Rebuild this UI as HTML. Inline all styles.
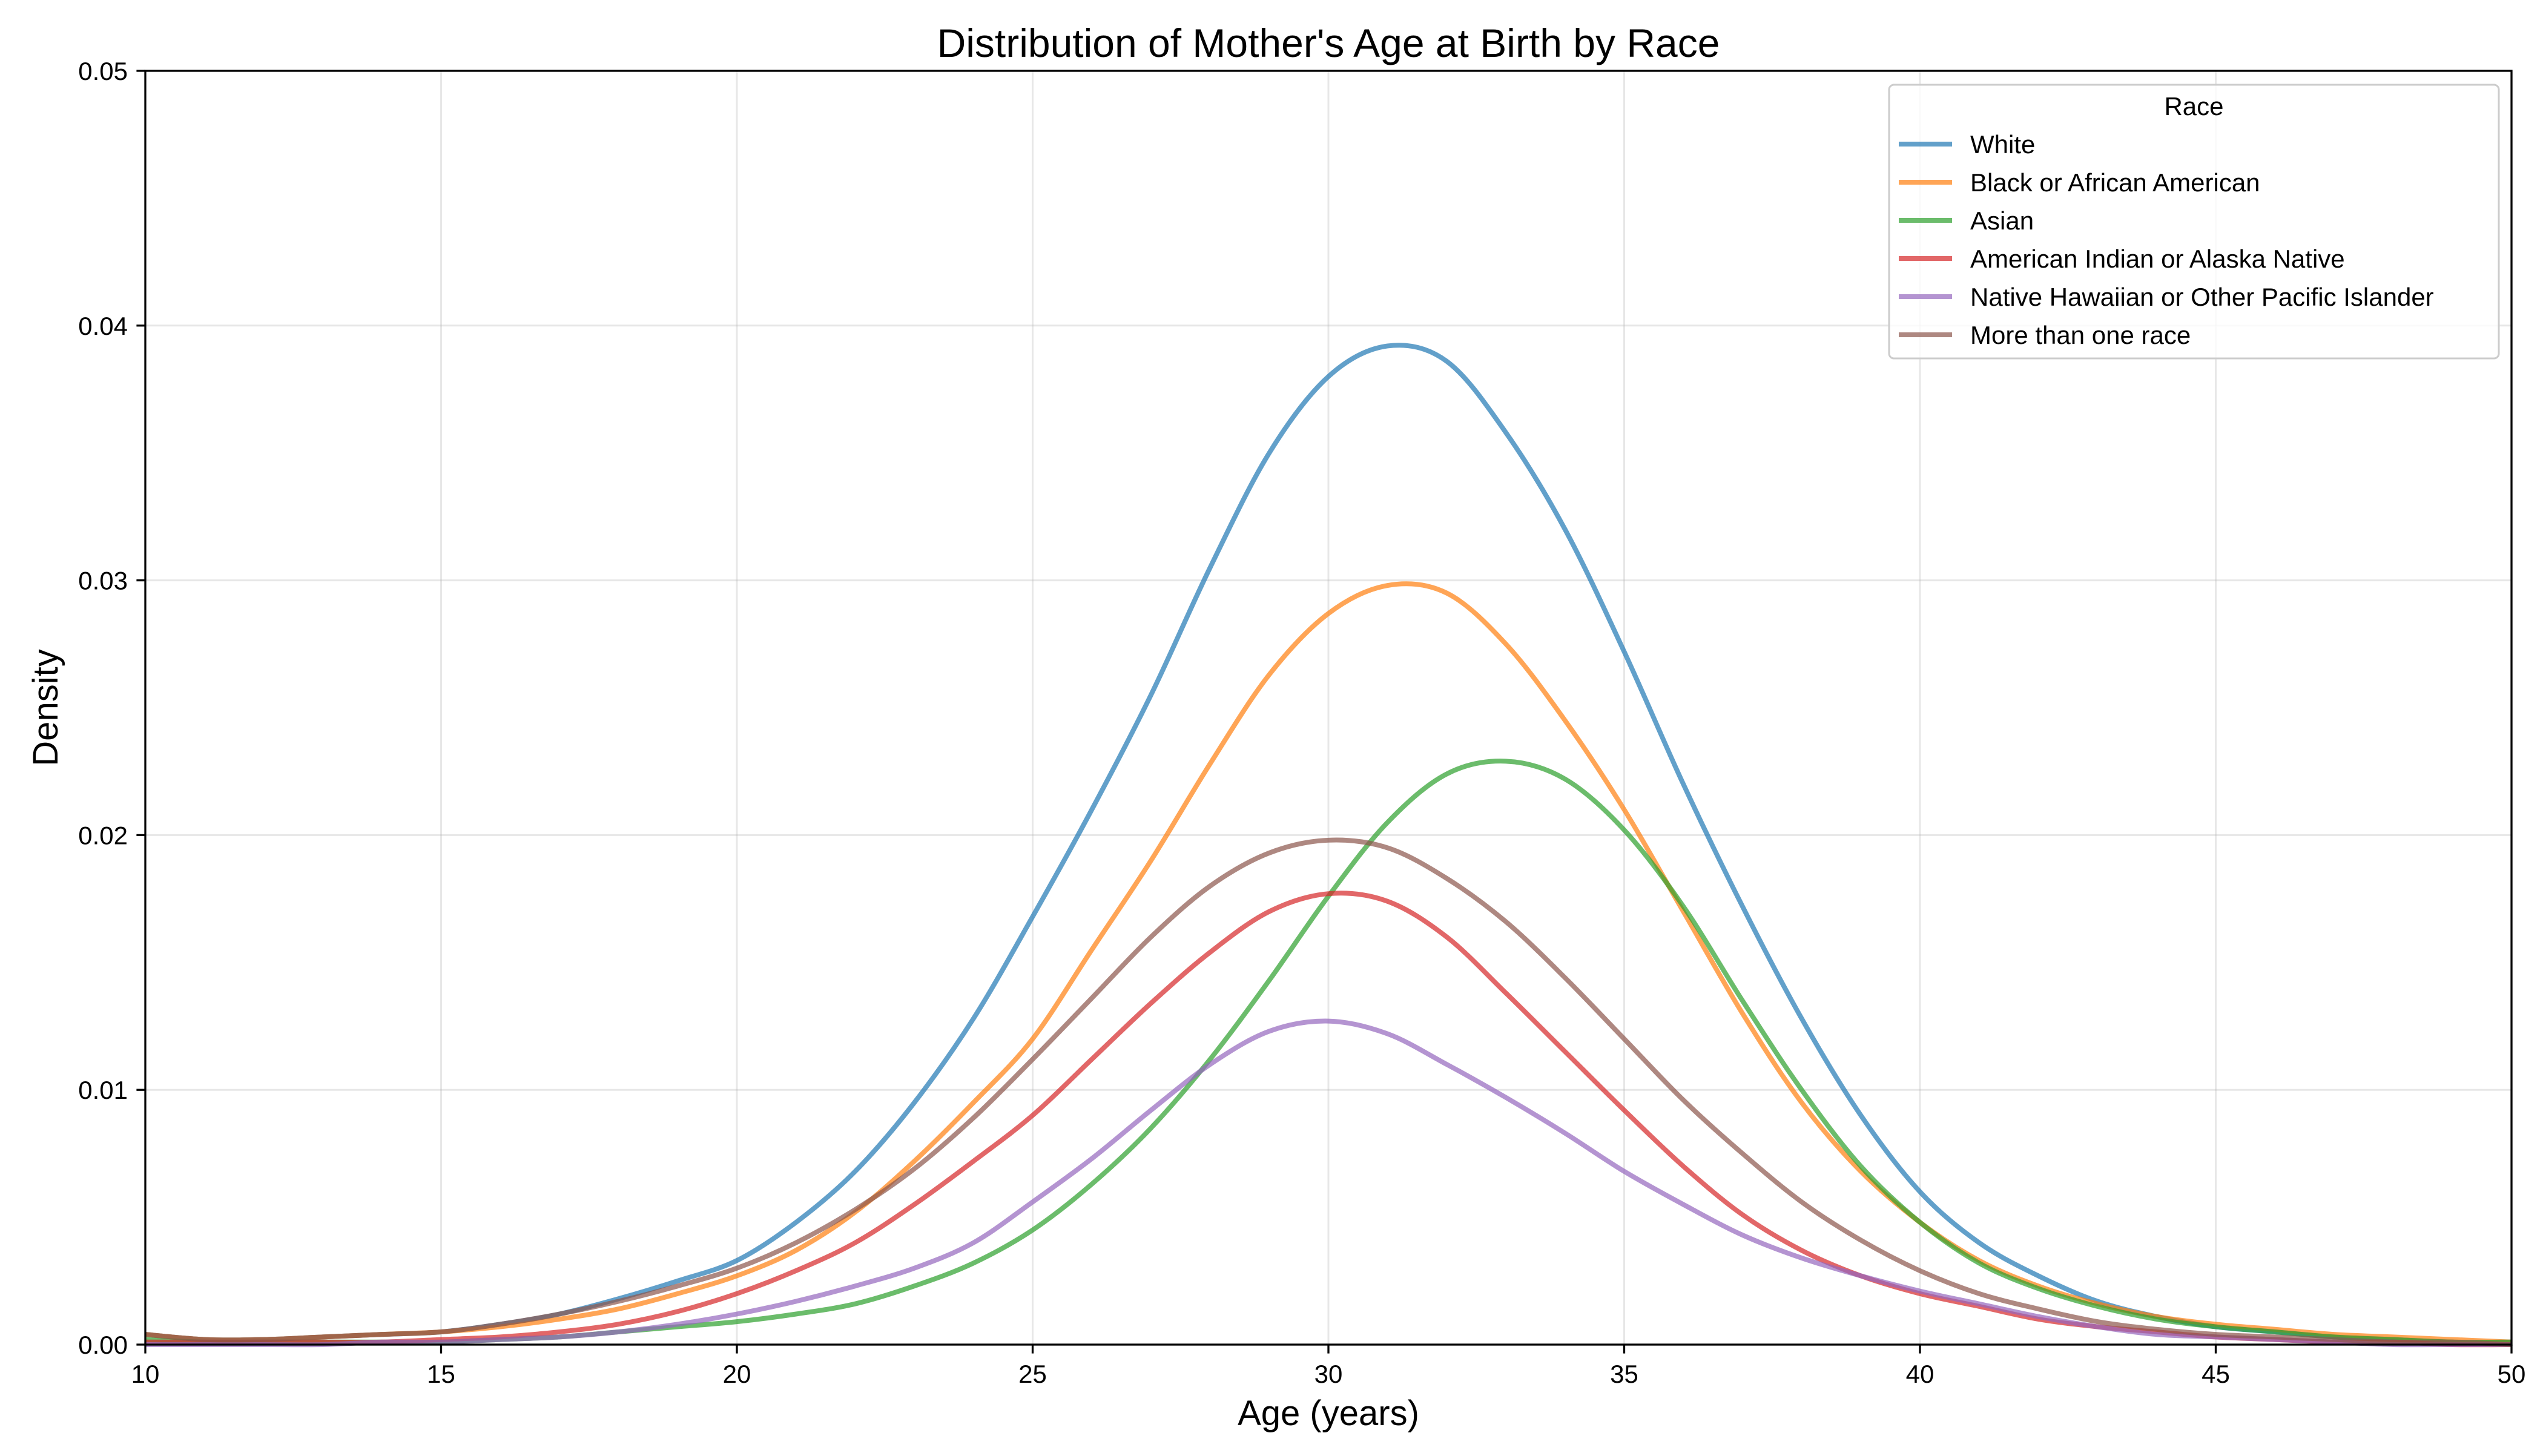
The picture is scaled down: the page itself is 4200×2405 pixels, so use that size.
<!DOCTYPE html>
<html><head><meta charset="utf-8"><style>
html,body{margin:0;padding:0;background:#fff}
svg text{font-family:"Liberation Sans","DejaVu Sans",sans-serif}
</style></head><body>
<svg id="chart" width="4200" height="2400" viewBox="0 0 4200 2400" xmlns="http://www.w3.org/2000/svg">
<rect width="4200" height="2400" fill="#fff"/>
<g id="grid"></g>
<g id="series"></g>
<g id="axes"></g>
<g id="legend"></g>
</svg>
<script>
const ages=[10,11,12,13,14,15,16,17,18,19,20,21,22,23,24,25,26,27,28,29,30,31,32,33,34,35,36,37,38,39,40,41,42,43,44,45,46,47,48,49,50];
const seriesNames=["White","Black or African American","Asian","American Indian or Alaska Native","Native Hawaiian or Other Pacific Islander","More than one race"];
const white=[.0004,.0002,.0002,.0003,.0004,.0005,.0008,.0012,.0018,.0025,.0033,.0048,.0068,.0095,.0128,.0168,.021,.0255,.0305,.035,.038,.0392,.0386,.0358,.032,.0272,.022,.0172,.0128,.009,.006,.004,.0027,.0017,.0011,.0007,.0005,.0003,.0002,.0001,.0001];
const black=[.0004,.0002,.0002,.0003,.0004,.0005,.0007,.001,.0014,.002,.0027,.0037,.0052,.0072,.0095,.012,.0155,.019,.0228,.0263,.0287,.0298,.0295,.0275,.0245,.021,.017,.013,.0095,.0068,.0048,.0033,.0023,.0016,.0011,.0008,.0006,.0004,.0003,.0002,.0001];
const asian=[.0002,.0001,.0001,.0001,.0001,.0001,.0002,.0003,.0005,.0007,.0009,.0012,.0016,.0023,.0032,.0045,.0063,.0085,.0112,.0143,.0176,.0205,.0224,.0229,.0222,.0202,.0172,.0135,.01,.007,.0048,.0032,.0022,.0015,.001,.0007,.0005,.0003,.0002,.0001,.0001];
const aian=[.0001,.0001,.0001,.0001,.0001,.0002,.0003,.0005,.0008,.0013,.002,.0029,.004,.0055,.0072,.009,.0112,.0134,.0154,.017,.0177,.0174,.016,.0138,.0115,.0092,.007,.0051,.0037,.0027,.002,.0015,.001,.0007,.0005,.0003,.0002,.0001,.0001,0,0];
const nhpi=[0,0,0,0,.0001,.0001,.0002,.0003,.0005,.0008,.0012,.0017,.0023,.003,.004,.0056,.0073,.0092,.011,.0123,.0127,.0122,.011,.0097,.0083,.0068,.0055,.0043,.0034,.0027,.0021,.0016,.0011,.0007,.0004,.0003,.0002,.0001,0,0,0];
const multi=[.0004,.0002,.0002,.0003,.0004,.0005,.0008,.0012,.0017,.0023,.003,.004,.0053,.0069,.0089,.0112,.0136,.016,.018,.0193,.0198,.0195,.0183,.0166,.0144,.012,.0096,.0075,.0056,.0041,.0029,.002,.0014,.0009,.0006,.0004,.0003,.0002,.0001,.0001,0];
const xTicks=[10,15,20,25,30,35,40,45,50];
const yTicks=[0,0.01,0.02,0.03,0.04,0.05];
const yTickLabels=["0.00","0.01","0.02","0.03","0.04","0.05"];

const NS="http://www.w3.org/2000/svg";
const L=240,R=4148,T=117,B=2221;
const xS=v=>L+(v-10)/40*(R-L);
const yS=v=>B-v/0.05*(B-T);
const colors=["#1f77b4","#ff7f0e","#2ca02c","#d62728","#9467bd","#8c564b"];
const allData=[white,black,asian,aian,nhpi,multi];
function mk(tag,attrs,parent){const e=document.createElementNS(NS,tag);for(const k in attrs)e.setAttribute(k,attrs[k]);parent.appendChild(e);return e;}
const grid=document.getElementById('grid'),axes=document.getElementById('axes'),ser=document.getElementById('series'),leg=document.getElementById('legend');
xTicks.forEach(t=>{
  const g=mk('line',{x1:xS(t),x2:xS(t),y1:T,y2:B,stroke:'#b0b0b0','stroke-opacity':0.3,'stroke-width':3},grid);
  
  
  const tk=mk('line',{x1:xS(t),x2:xS(t),y1:B,y2:B+14.6,stroke:'#000','stroke-width':3.3},axes);
  
  
  const tx=mk('text',{x:xS(t),y:B+63,'text-anchor':'middle','font-size':42,fill:'#000'},axes);
  tx.textContent=t;
  
  
});
yTicks.forEach((t,i)=>{
  const g=mk('line',{x1:L,x2:R,y1:yS(t),y2:yS(t),stroke:'#b0b0b0','stroke-opacity':0.3,'stroke-width':3},grid);
  
  
  const tk=mk('line',{x1:L-14.6,x2:L,y1:yS(t),y2:yS(t),stroke:'#000','stroke-width':3.3},axes);
  
  
  const tx=mk('text',{x:L-29,y:yS(t)+15,'text-anchor':'end','font-size':42,fill:'#000'},axes);
  tx.textContent=yTickLabels[i];
  
  
});
function pathFor(d){
  const p=ages.map((a,i)=>[xS(a),yS(d[i])]);
  let s=`M${p[0][0]},${p[0][1]}`;
  for(let i=0;i<p.length-1;i++){
    const p0=p[Math.max(0,i-1)],p1=p[i],p2=p[i+1],p3=p[Math.min(p.length-1,i+2)];
    const c1=[p1[0]+(p2[0]-p0[0])/6,p1[1]+(p2[1]-p0[1])/6];
    const c2=[p2[0]-(p3[0]-p1[0])/6,p2[1]-(p3[1]-p1[1])/6];
    s+=` C${c1[0]},${c1[1]} ${c2[0]},${c2[1]} ${p2[0]},${p2[1]}`;
  }
  return s;
}
allData.forEach((d,i)=>{
  const p=mk('path',{d:pathFor(d),fill:'none',stroke:colors[i],'stroke-opacity':0.7,'stroke-width':8,'stroke-linejoin':'round'},ser);
  
  
});
const frame=mk('rect',{x:L,y:T,width:R-L,height:B-T,fill:'none',stroke:'#000','stroke-width':3.3},axes);


const title=mk('text',{x:(L+R)/2,y:94,'text-anchor':'middle','font-size':66,fill:'#000'},axes);
title.textContent="Distribution of Mother's Age at Birth by Race";


const xl=mk('text',{x:(L+R)/2,y:2354,'text-anchor':'middle','font-size':58,fill:'#000'},axes);
xl.textContent="Age (years)";


const yl=mk('text',{x:0,y:0,'text-anchor':'middle','font-size':58,fill:'#000',transform:`translate(95,${(T+B)/2}) rotate(-90)`},axes);
yl.textContent="Density";


// legend
const LX=3120,LY=140,LW=1007,LH=452;
const box=mk('rect',{x:LX,y:LY,width:LW,height:LH,rx:8,fill:'#fff','fill-opacity':0.8,stroke:'#ccc','stroke-width':3},leg);


const lt=mk('text',{x:LX+LW/2,y:LY+50,'text-anchor':'middle','font-size':42,fill:'#000'},leg);
lt.textContent="Race";


seriesNames.forEach((n,i)=>{
  const y=LY+98+i*63;
  const g=mk('g',{},leg);
  
  
  mk('line',{x1:LX+16,x2:LX+104,y1:y,y2:y,stroke:colors[i],'stroke-opacity':0.7,'stroke-width':8},g);
  const t=mk('text',{x:LX+134,y:y+15,'font-size':42,fill:'#000'},g);
  t.textContent=n;
});
</script>
</body></html>
